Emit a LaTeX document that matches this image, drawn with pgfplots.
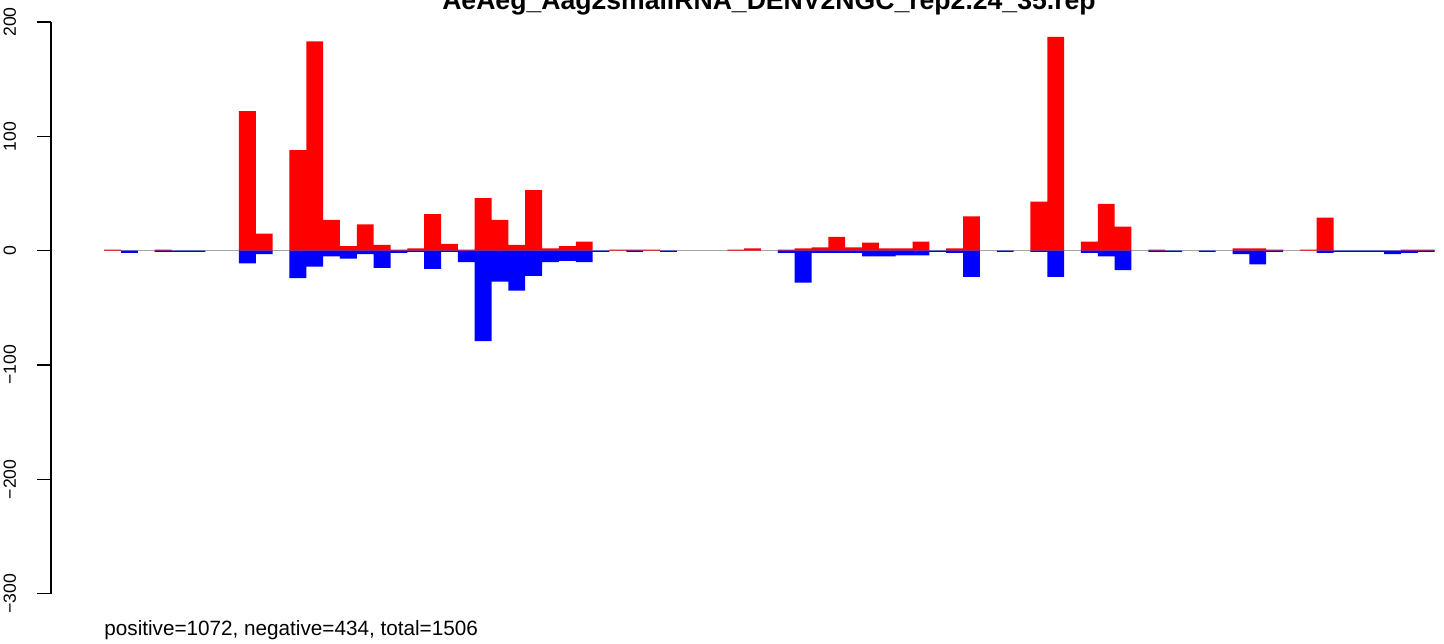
\documentclass[border=0pt]{standalone}
\usepackage{fontspec}
\setmainfont{Liberation Sans}
\usepackage{pgfplots}
\usepackage{pgfplotstable}
\pgfplotsset{compat=1.18}

\definecolor{zerogrey}{RGB}{165,165,165}

% counts per bin (bar index, count)
\pgfplotstableread{
i v
0 1
3 1
8 122
9 15
11 88
12 183
13 27
14 4
15 23
16 5
17 1
18 2
19 32
20 6
21 1
22 46
23 27
24 5
25 53
26 2
27 4
28 8
30 1
31 1
32 1
37 1
38 2
40 1
41 2
42 3
43 12
44 3
45 7
46 2
47 2
48 8
50 2
51 30
55 43
56 187
58 8
59 41
60 21
62 1
67 2
68 2
69 1
71 1
72 29
77 1
78 1
}\posdata

\pgfplotstableread{
i v
1 2
3 1
4 1
5 1
8 11
9 3
11 24
12 14
13 5
14 7
15 3
16 15
17 2
18 1
19 16
20 1
21 10
22 79
23 27
24 35
25 22
26 10
27 9
28 10
29 1
31 1
33 1
40 2
41 28
42 2
43 2
44 2
45 5
46 5
47 4
48 4
49 1
50 2
51 23
53 1
55 1
56 23
58 2
59 5
60 17
62 1
63 1
65 1
67 3
68 12
69 1
72 2
73 1
74 1
75 1
76 3
77 2
78 1
}\negdata

\begin{document}
\begin{tikzpicture}
\begin{axis}[
    at={(25.5pt,24.65pt)}, anchor=south west,
    scale only axis,
    width=718.4pt, height=285.85pt,
    xmin=-3.16, xmax=82.16,
    ymin=-300, ymax=200,
    axis x line=none,
    axis y line=left,
    y axis line style={-, line width=0.6pt},
    ytick={-300,-200,-100,0,100,200},
    yticklabels={−300,−200,−100,0,100,200},
    tick align=outside,
    major tick length=7pt,
    ytick style={line width=0.6pt, black},
    yticklabel style={font=\fontsize{8.8}{10}\selectfont, xshift=-10.5pt, rotate=90, anchor=base},
    clip=false,
]
\addplot[draw=zerogrey, line width=0.8pt] coordinates {(0,0) (79,0)};
\addplot[ybar, bar width=1, bar shift=0pt, fill=red, draw=none]
    table[x expr=\thisrow{i}+0.5, y=v] {\posdata};
\addplot[ybar, bar width=1, bar shift=0pt, fill=blue, draw=none]
    table[x expr=\thisrow{i}+0.5, y expr=-\thisrow{v}] {\negdata};
\end{axis}

\node[anchor=base, font=\fontsize{13.3}{16}\selectfont\bfseries]
    at (384.5pt,316.5pt) {AeAeg\_Aag2smallRNA\_DENV2NGC\_rep2.24\_35.rep};
\node[anchor=base west, inner sep=0pt, font=\fontsize{10.35}{12}\selectfont]
    at (52pt,4pt) {positive=1072, negative=434, total=1506};

\pgfresetboundingbox
\useasboundingbox (0,0) rectangle (722pt,321.5pt);
\end{tikzpicture}
\end{document}
